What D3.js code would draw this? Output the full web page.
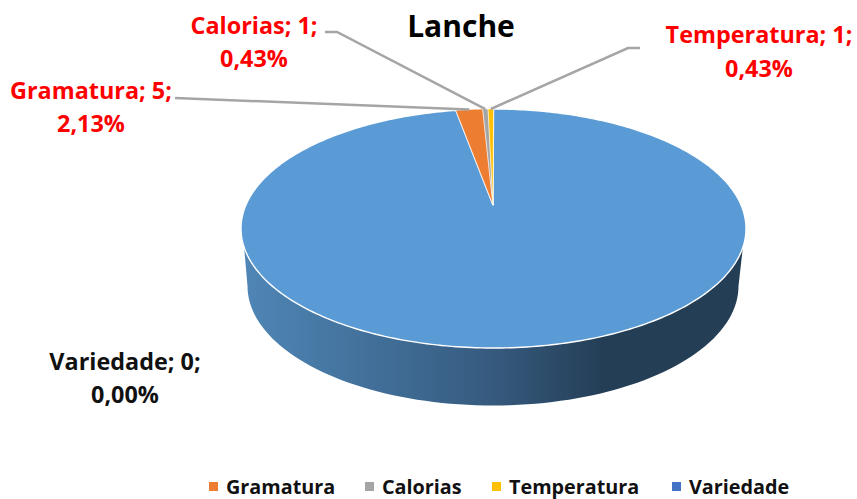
<!DOCTYPE html>
<html>
<head>
<meta charset="utf-8">
<script src="https://cdn.jsdelivr.net/npm/d3@7"></script>
<style>
	html, body { margin:0; padding:0; background:#fff; }
	text { font-family:"Open Sans", sans-serif; font-weight:700; }
</style>
</head>
<body>
<script>
var categories = ["Gramatura", "Calorias", "Temperatura", "Outros", "Variedade"];
var values = [5, 1, 1, 228, 0];
var percents = ["2,13%", "0,43%", "0,43%", "", "0,00%"];
var colors = ["#ED7D31", "#A5A5A5", "#FFC000", "#5B9BD5", "#4472C4"];
var legendNames = ["Gramatura", "Calorias", "Temperatura", "Variedade"];
var sideStops = [[0, "#4f86b6"], [0.25, "#42709a"], [0.5, "#365a7e"], [0.72, "#243e56"], [1, "#243e56"]];

var width = 857, height = 499;
var cx = 493.5, cy = 228.5, rx = 252.5, ry = 119.5;
var apex = [493, 205];
var depth = 57.5;

var svg = d3.select("body").append("svg")
	.attr("width", width)
	.attr("height", height)
	.style("display", "block");

var grad = svg.append("defs").append("linearGradient")
	.attr("id", "side")
	.attr("x1", "0").attr("x2", "1").attr("y1", "0").attr("y2", "0");
grad.selectAll("stop").data(sideStops).enter().append("stop")
	.attr("offset", function(d){ return d[0]; })
	.attr("stop-color", function(d){ return d[1]; });

// perspective: slices near the back look narrower
function rim(a){
	var t = a - 0.2 * Math.sin(a);
	return [cx + rx * Math.sin(t), cy - ry * Math.cos(t)];
}

var share = d3.sum(values.slice(0, 3)) / d3.sum(values) * 2 * Math.PI;
var pie = d3.pie().sort(null).value(function(d){ return d; })
	.startAngle(-share).endAngle(2 * Math.PI - share);
var arcs = pie(values);
var line = d3.line();

// side wall
var sideTop = d3.range(99, 261.5, 2).map(function(deg){
	var a = deg * Math.PI / 180;
	return [cx + rx * Math.sin(a), cy - ry * Math.cos(a)];
});
var sideBottom = d3.range(270, 89.5, -2).map(function(deg){
	var a = deg * Math.PI / 180;
	return [cx - 0.5 + (rx - 7) * Math.sin(a), cy + depth - ry * Math.cos(a)];
});
svg.append("path")
	.attr("d", line(sideTop.concat(sideBottom)) + "Z")
	.attr("fill", "url(#side)");

// top
var slices = arcs.filter(function(d){ return d.value > 0; })
	.sort(function(a, b){ return b.value - a.value; });
svg.selectAll("path.slice").data(slices).enter().append("path")
	.attr("class", "slice")
	.attr("d", function(d){
		var n = Math.max(2, Math.ceil((d.endAngle - d.startAngle) * 60));
		var pts = d3.range(n + 1).map(function(i){
			return rim(d.startAngle + (d.endAngle - d.startAngle) * i / n);
		});
		return line([apex].concat(pts)) + "Z";
	})
	.attr("fill", function(d){ return colors[d.index]; })
	.attr("stroke", "#fff")
	.attr("stroke-width", function(d){ return d.value > 100 ? 1.4 : 0.5; })
	.attr("stroke-linejoin", "round");

// leader lines
var leaders = [
	{i:0, from:[[175, 98]]},
	{i:1, from:[[325, 32], [337, 32]]},
	{i:2, from:[[640, 48], [628, 48]]}
];
svg.selectAll("path.leader").data(leaders).enter().append("path")
	.attr("class", "leader")
	.attr("d", function(d){
		var a = arcs[d.i];
		return line(d.from.concat([rim((a.startAngle + a.endAngle) / 2)]));
	})
	.attr("fill", "none")
	.attr("stroke", "#A5A5A5")
	.attr("stroke-width", 2.5);

// title
svg.append("text")
	.attr("x", 461).attr("y", 37)
	.attr("text-anchor", "middle")
	.attr("font-size", 30)
	.attr("fill", "#000")
	.text("Lanche");

// data labels
var labelPos = [[91, 99, 132], [254, 34, 67], [759, 43, 77], null, [125, 370, 403]];
var labelColor = ["#FF0000", "#FF0000", "#FF0000", null, "#111"];
values.forEach(function(v, i){
	if(!labelPos[i]) return;
	var g = svg.append("text")
		.attr("text-anchor", "middle")
		.attr("font-size", 23.4)
		.attr("fill", labelColor[i]);
	g.append("tspan").attr("x", labelPos[i][0]).attr("y", labelPos[i][1])
		.text(categories[i] + "; " + v + ";");
	g.append("tspan").attr("x", labelPos[i][0]).attr("y", labelPos[i][2])
		.text(percents[i]);
});

// legend
var legendX = [209, 365, 492, 672];
var legend = svg.selectAll("g.legend").data(legendNames).enter().append("g")
	.attr("class", "legend")
	.attr("transform", function(d, i){ return "translate(" + legendX[i] + ",487)"; });
legend.append("rect")
	.attr("x", 0).attr("y", -5).attr("width", 9).attr("height", 9)
	.attr("fill", function(d){ return colors[categories.indexOf(d)]; });
legend.append("text")
	.attr("x", 17).attr("y", 7)
	.attr("font-size", 19.8)
	.attr("fill", "#111")
	.text(function(d){ return d; });
</script>
</body>
</html>
